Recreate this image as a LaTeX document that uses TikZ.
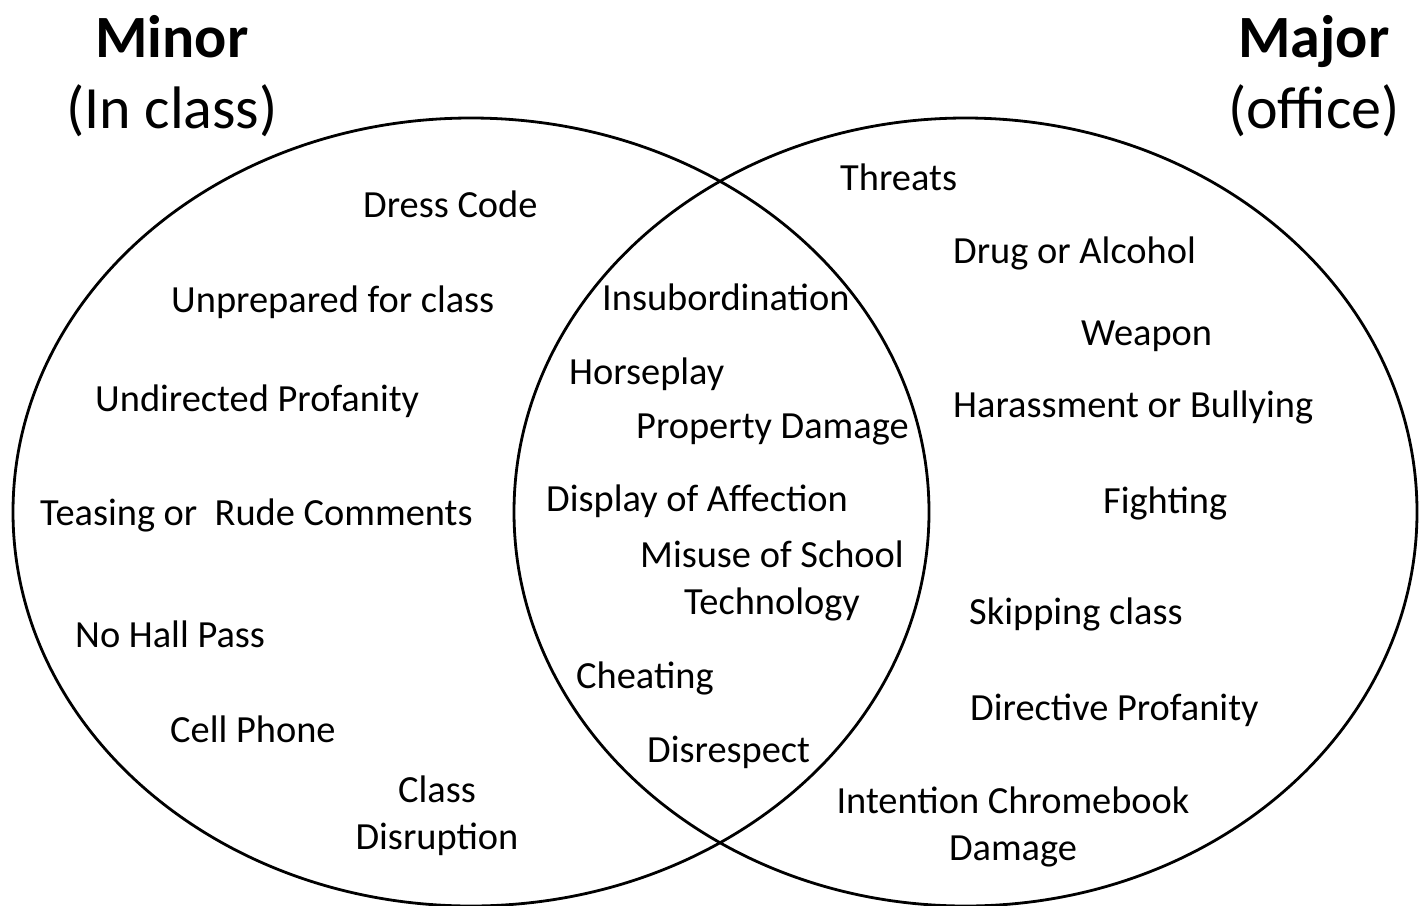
\documentclass[tikz,border=0pt]{standalone}
\usepackage{fontspec}
\setmainfont{Carlito}
\begin{document}
\begin{tikzpicture}[x=1pt,y=-1pt,
  item/.style={anchor=mid west,inner sep=0pt,font=\fontsize{38.4}{47}\selectfont},
  citem/.style={anchor=mid,inner sep=0pt,align=center,font=\fontsize{38.4}{47}\selectfont},
  ttl/.style={anchor=mid,inner sep=0pt,align=center,font=\fontsize{60}{70}\selectfont},
  ring/.style={draw=black,line width=2.8pt}]
\useasboundingbox (0,0) rectangle (1426,905);
\draw[ring] (471,512) ellipse [x radius=458pt, y radius=394pt];
\draw[ring] (965.5,512) ellipse [x radius=451.5pt, y radius=394pt];
% titles
\node[ttl] (minor) at (172,55) {\bfseries Minor};
\node[ttl] (inclass) at (172,126) {(In class)};
\node[ttl] (major) at (1314,55) {\bfseries Major};
\node[ttl] (office) at (1314,126) {(office)};
% left
\node[item] (dress) at (363,215) {Dress Code};
\node[item] (unprep) at (171,310) {Unprepared for class};
\node[item] (undir) at (95,409) {Undirected Profanity};
\node[item] (teas) at (40,523) {Teasing or\ \ Rude Comments};
\node[item] (hall) at (75,645) {No Hall Pass};
\node[item] (cell) at (170,740) {Cell Phone};
\node[citem] (disr) at (437,847) {Class\\Disruption};
% middle
\node[item] (insub) at (602,308) {Insubordination};
\node[item] (horse) at (569,382) {Horseplay};
\node[item] (prop) at (636,436) {Property Damage};
\node[item] (disp) at (546,509) {Display of Affection};
\node[citem] (misuse) at (772,612) {Misuse of School\\Technology};
\node[item] (cheat) at (576,686) {Cheating};
\node[item] (disres) at (647,760) {Disrespect};
% right
\node[item] (threat) at (840,188) {Threats};
\node[item] (drug) at (953,261) {Drug or Alcohol};
\node[item] (weap) at (1081,343) {Weapon};
\node[item] (harass) at (953,415) {Harassment or Bullying};
\node[item] (fight) at (1103,511) {Fighting};
\node[item] (skip) at (969,622) {Skipping class};
\node[item] (direct) at (970,718) {Directive Profanity};
\node[citem] (chrome) at (1013,858) {Intention Chromebook\\Damage};
\end{tikzpicture}
\end{document}
